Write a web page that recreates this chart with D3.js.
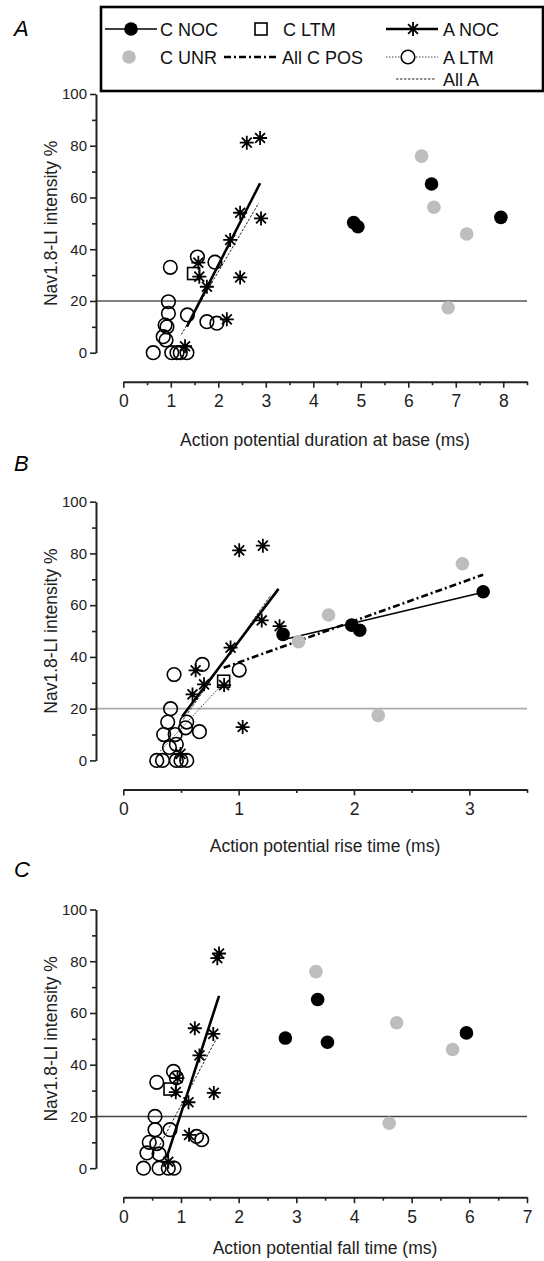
<!DOCTYPE html>
<html>
<head>
<meta charset="utf-8">
<script src="https://cdn.jsdelivr.net/npm/d3@7"></script>
<style>
  body { margin: 0; background: #fff; }
  svg { font-family: "Liberation Sans", Arial, sans-serif; }
</style>
</head>
<body>
<svg id="fig" width="544" height="1261"></svg>
<script>
// Nav1.8-LI intensity (%) for each group; x values per panel
// (A = duration at base, B = rise time, C = fall time, all ms)
const cNocY    = [50.3, 48.7, 65.2, 52.3];
const cNocDur  = [4.85, 4.94, 6.49, 7.95];
const cNocRise = [2.05, 1.385, 3.12, 1.98];
const cNocFall = [2.81, 3.54, 3.37, 5.95];

const cUnrY    = [76, 56.2, 45.9, 17.4];
const cUnrDur  = [6.28, 6.54, 7.23, 6.84];
const cUnrRise = [2.94, 1.78, 1.52, 2.21];
const cUnrFall = [3.34, 4.74, 5.71, 4.61];

const cLtmY    = [30.6];
const cLtmDur  = [1.48];
const cLtmRise = [0.87];
const cLtmFall = [0.81];

const aNocY    = [81.2, 83.0, 54.1, 51.9, 43.6, 29.1, 34.8, 29.4, 25.5, 12.9, 2.5];
const aNocDur  = [2.60, 2.88, 2.46, 2.90, 2.25, 2.46, 1.58, 1.60, 1.76, 2.18, 1.30];
const aNocRise = [1.005, 1.21, 1.20, 1.355, 0.93, 0.874, 0.627, 0.70, 0.60, 1.035, 0.496];
const aNocFall = [1.63, 1.66, 1.24, 1.56, 1.32, 1.57, 0.94, 0.91, 1.13, 1.14, 0.78];

// A LTM cells (overlapping clusters read per panel)
const aLtmDur   = [0.99, 1.56, 1.93, 0.95, 1.35, 0.95, 0.88, 0.92, 0.84, 0.90, 1.76, 1.97, 0.63, 1.02, 1.13, 1.20, 1.34];
const aLtmDurY  = [33, 37, 35, 19.7, 14.6, 15.2, 10.7, 10, 6.2, 4.9, 12, 11.4, 0, 0, 0, 0, 0];
const aLtmRise  = [0.44, 0.685, 1.005, 0.41, 0.385, 0.55, 0.35, 0.45, 0.54, 0.66, 0.46, 0.40, 0.29, 0.34, 0.46, 0.50, 0.55];
const aLtmRiseY = [33.2, 37.1, 34.9, 20, 14.8, 14.8, 10, 10, 12.6, 11.1, 6.2, 5, 0, 0, 0, 0, 0];
const aLtmFall  = [0.58, 0.87, 0.92, 0.55, 0.55, 0.81, 1.27, 1.36, 0.45, 0.58, 0.41, 0.62, 0.35, 0.62, 0.78, 0.88];
const aLtmFallY = [33.2, 37.4, 35, 20, 14.9, 14.9, 12.3, 11, 10, 9.5, 5.9, 5.5, 0, 0, 0, 0];

// regression line end points [x0, x1], [y0, y1]
const fitANocDur  = [[1.34, 2.88], [10.1, 65.5]];
const fitAllADur  = [[1.22, 2.85], [7, 57.8]];
const fitANocRise = [[0.51, 1.346], [17, 66.3]];
const fitAllARise = [[0.52, 1.28], [15.8, 64]];
const fitALtmRise = [[0.32, 0.87], [3.6, 30]];
const fitCPosRise = [[0.87, 3.12], [35.8, 71.8]];
const fitCNocRise = [[1.385, 3.12], [46.6, 65]];
const fitANocFall = [[0.75, 1.66], [4, 66.6]];
const fitAllAFall = [[0.6, 1.62], [7.5, 50.3]];

const yTicks = [0, 10, 20, 30, 40, 50, 60, 70, 80, 90, 100];
const threshold = 20;

const svg = d3.select('#fig');
const plotLeft = 123.3, plotRight = 527, yAxisX = 96, panelH = 258.7;

const zip = (xs, ys) => xs.map((v, i) => [v, ys[i]]);
const starPath = r => {
  const d = r * Math.SQRT1_2;
  return `M${-r},0L${r},0M0,${-r}L0,${r}M${-d},${-d}L${d},${d}M${-d},${d}L${d},${-d}`;
};

const styles = {
  aNoc: { stroke: '#000', 'stroke-width': 2.6 },
  allA: { stroke: '#222', 'stroke-width': 1, 'stroke-dasharray': '2.5,1.5' },
  aLtm: { stroke: '#444', 'stroke-width': 1, 'stroke-dasharray': '1.5,1.5' },
  cPos: { stroke: '#000', 'stroke-width': 2.6, 'stroke-dasharray': '7,3,2,3' },
  cNoc: { stroke: '#000', 'stroke-width': 1.5 }
};

function applyStyle(sel, st) {
  Object.entries(st).forEach(([k, v]) => sel.attr(k, v));
  return sel.attr('fill', 'none');
}

function drawPanel(p) {
  const g = svg.append('g');
  const x = d3.scaleLinear().domain([0, p.xMax]).range([plotLeft, plotRight]);
  const y = d3.scaleLinear().domain([0, 100]).range([p.top + panelH, p.top]);

  // panel letter
  g.append('text').attr('x', 14).attr('y', p.letterY)
    .attr('font-size', 22).attr('font-style', 'italic').text(p.letter);

  // threshold line
  g.append('line')
    .attr('x1', yAxisX).attr('x2', plotRight)
    .attr('y1', y(threshold)).attr('y2', y(threshold))
    .attr('stroke', p.thrColor).attr('stroke-width', 1.6);

  // y axis
  const ya = g.append('g').attr('transform', `translate(${yAxisX},0)`)
    .call(d3.axisLeft(y).tickValues(yTicks).tickSizeOuter(0)
      .tickFormat(d => d % 20 === 0 ? d : ''));
  ya.select('.domain').attr('stroke', '#222').attr('stroke-width', 2);
  ya.selectAll('.tick line').attr('stroke', '#222').attr('stroke-width', 1.6)
    .attr('x2', d => d % 20 === 0 ? -6 : -4);
  ya.selectAll('.tick text').attr('x', -9).attr('font-size', 15)
    .attr('font-family', '"Liberation Sans", Arial, sans-serif').attr('fill', '#222');

  // x axis
  const xa = g.append('g').attr('transform', `translate(0,${p.top + panelH + 29})`)
    .call(d3.axisBottom(x).tickValues(d3.range(0, p.xMax + 0.01, 0.5)).tickSizeOuter(0)
      .tickFormat(d => Number.isInteger(d) ? d : ''));
  xa.select('.domain').attr('stroke', '#222').attr('stroke-width', 2);
  xa.selectAll('.tick line').attr('stroke', '#222').attr('stroke-width', 1.6)
    .attr('y2', d => Number.isInteger(d) ? 6 : 3.5);
  xa.selectAll('.tick text').attr('y', 13).attr('font-size', 17.5)
    .attr('font-family', '"Liberation Sans", Arial, sans-serif').attr('fill', '#222');

  // axis titles
  g.append('text').attr('x', 325).attr('y', p.titleY)
    .attr('text-anchor', 'middle').attr('font-size', 17.5).attr('fill', '#222').text(p.xTitle);
  g.append('text')
    .attr('transform', `translate(57,${p.top + panelH / 2}) rotate(-90)`)
    .attr('text-anchor', 'middle').attr('font-size', 17.5).attr('fill', '#222')
    .text('Nav1.8-LI intensity %');

  // regression lines
  p.fits.forEach(([fit, st]) => {
    applyStyle(g.append('line'), st)
      .attr('x1', x(fit[0][0])).attr('x2', x(fit[0][1]))
      .attr('y1', y(fit[1][0])).attr('y2', y(fit[1][1]));
  });

  // points
  g.selectAll(null).data(p.cUnr).join('circle')
    .attr('cx', d => x(d[0])).attr('cy', d => y(d[1])).attr('r', 6.8).attr('fill', '#bdbdbd');
  g.selectAll(null).data(p.cNoc).join('circle')
    .attr('cx', d => x(d[0])).attr('cy', d => y(d[1])).attr('r', 6.8).attr('fill', '#000');
  g.selectAll(null).data(p.aLtm).join('circle')
    .attr('cx', d => x(d[0])).attr('cy', d => y(d[1])).attr('r', 6.8)
    .attr('fill', 'none').attr('stroke', '#000').attr('stroke-width', 1.6);
  g.selectAll(null).data(p.cLtm).join('rect')
    .attr('x', d => x(d[0]) - 6).attr('y', d => y(d[1]) - 6).attr('width', 12).attr('height', 12)
    .attr('fill', 'none').attr('stroke', '#000').attr('stroke-width', 1.6);
  g.selectAll(null).data(p.aNoc).join('path')
    .attr('transform', d => `translate(${x(d[0])},${y(d[1])})`)
    .attr('d', starPath(7)).attr('stroke', '#000').attr('stroke-width', 1.8);
}

const panels = [
  { letter: 'A', letterY: 36, top: 94, xMax: 8.5, thrColor: '#555', titleY: 446,
    xTitle: 'Action potential duration at base (ms)',
    cNoc: zip(cNocDur, cNocY), cUnr: zip(cUnrDur, cUnrY), cLtm: zip(cLtmDur, cLtmY),
    aNoc: zip(aNocDur, aNocY), aLtm: zip(aLtmDur, aLtmDurY),
    fits: [[fitAllADur, styles.allA], [fitANocDur, styles.aNoc]] },
  { letter: 'B', letterY: 471, top: 501.7, xMax: 3.5, thrColor: '#aaa', titleY: 852,
    xTitle: 'Action potential rise time (ms)',
    cNoc: zip(cNocRise, cNocY), cUnr: zip(cUnrRise, cUnrY), cLtm: zip(cLtmRise, cLtmY),
    aNoc: zip(aNocRise, aNocY), aLtm: zip(aLtmRise, aLtmRiseY),
    fits: [[fitALtmRise, styles.aLtm], [fitAllARise, styles.allA], [fitANocRise, styles.aNoc],
           [fitCNocRise, styles.cNoc], [fitCPosRise, styles.cPos]] },
  { letter: 'C', letterY: 877, top: 909.5, xMax: 7, thrColor: '#444', titleY: 1254,
    xTitle: 'Action potential fall time (ms)',
    cNoc: zip(cNocFall, cNocY), cUnr: zip(cUnrFall, cUnrY), cLtm: zip(cLtmFall, cLtmY),
    aNoc: zip(aNocFall, aNocY), aLtm: zip(aLtmFall, aLtmFallY),
    fits: [[fitAllAFall, styles.allA], [fitANocFall, styles.aNoc]] }
];
panels.forEach(drawPanel);

// legend
const lg = svg.append('g');
lg.append('rect').attr('x', 101).attr('y', 7).attr('width', 442).attr('height', 84)
  .attr('fill', '#fff').attr('stroke', '#000').attr('stroke-width', 2.6);
const legText = (tx, ty, s) => lg.append('text').attr('x', tx).attr('y', ty + 6.5)
  .attr('font-size', 18).attr('fill', '#111').text(s);
const legLine = (x1, x2, ly, st) => applyStyle(lg.append('line'), st)
  .attr('x1', x1).attr('x2', x2).attr('y1', ly).attr('y2', ly);

legLine(105, 157, 29, styles.cNoc);
lg.append('circle').attr('cx', 131).attr('cy', 29).attr('r', 6.8).attr('fill', '#000');
legText(160, 29, 'C NOC');
lg.append('rect').attr('x', 255).attr('y', 23).attr('width', 12).attr('height', 12)
  .attr('fill', 'none').attr('stroke', '#000').attr('stroke-width', 1.6);
legText(283, 29, 'C LTM');
legLine(386, 438, 29, styles.aNoc);
lg.append('path').attr('transform', 'translate(413,29)').attr('d', starPath(7))
  .attr('stroke', '#000').attr('stroke-width', 1.8);
legText(443, 29, 'A NOC');

lg.append('circle').attr('cx', 129).attr('cy', 57).attr('r', 6.8).attr('fill', '#bdbdbd');
legText(160, 57, 'C UNR');
legLine(224, 277, 57, styles.cPos);
legText(282, 57, 'All C POS');
legLine(386, 438, 57, styles.aLtm);
lg.append('circle').attr('cx', 408).attr('cy', 57).attr('r', 6.8)
  .attr('fill', '#fff').attr('stroke', '#000').attr('stroke-width', 1.6);
legText(443, 57, 'A LTM');
legLine(396, 436, 79, styles.allA);
legText(443, 79, 'All A');
</script>
</body>
</html>
